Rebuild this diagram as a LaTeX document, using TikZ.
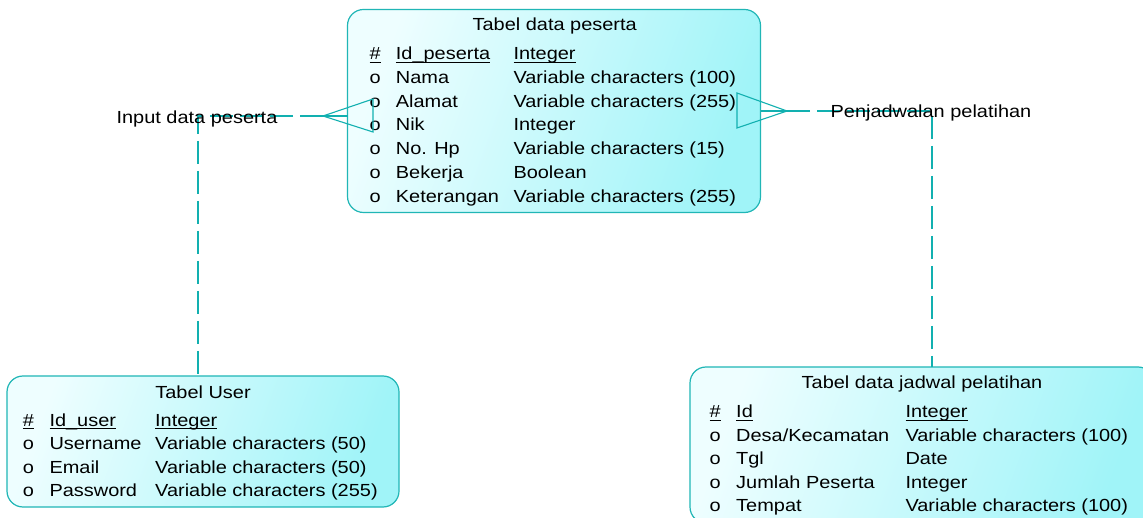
\documentclass[tikz,border=0pt]{standalone}
\usepackage{fontspec}
\setmainfont{Liberation Sans}[FakeStretch=1.14]
\definecolor{lnc}{RGB}{18,176,176}
\definecolor{bdc}{RGB}{32,182,182}
\definecolor{fa}{RGB}{238,254,255}
\definecolor{fb}{RGB}{160,244,248}
\newcommand\ulx[1]{\setbox0\hbox{#1}\rlap{\rule[-3.4pt]{\wd0}{1.3pt}}\box0}
\tikzset{
  tbl/.style={draw=bdc, line width=1.2pt, rounded corners=16pt, left color=fa, right color=fb, shading angle=70, anchor=north west, inner sep=0pt, outer sep=0pt},
  txt/.style={anchor=base west, inner sep=0pt, font=\fontsize{17.5}{20}\selectfont},
  ttl/.style={anchor=base, inner sep=0pt, font=\fontsize{17.5}{20}\selectfont},
  rel/.style={draw=lnc, line width=2.6pt, dash pattern=on 23pt off 7pt},
  foot/.style={draw=lnc, line width=1.1pt},
}
\begin{document}
\begin{tikzpicture}[x=1pt,y=-1pt]
\clip (0,0) rectangle (1143,518);
\fill[white] (0,0) rectangle (1143,518);

% tables
\node[tbl, minimum width=413pt, minimum height=203pt] (peserta) at (347.5,9.5) {};
\node[tbl, minimum width=392pt, minimum height=131pt] (user) at (7,376) {};
\node[tbl, minimum width=464pt, minimum height=156pt] (jadwal) at (690,367) {};

% titles
\node[ttl] (peserta-t) at (554.7,31) {Tabel data peserta};
\node[ttl] (user-t) at (203,398.3) {Tabel User};
\node[ttl] (jadwal-t) at (922,388.3) {Tabel data jadwal pelatihan};

% rows: Tabel data peserta
\foreach \y/\a/\b/\c [count=\k] in {
  59.5/{\ulx{\#}}/{\ulx{Id\_peserta}}/{\ulx{Integer}},
  83.3/o/Nama/Variable characters (100),
  107.1/o/Alamat/Variable characters (255),
  130.9/o/Nik/Integer,
  154.7/o/No. Hp/Variable characters (15),
  178.5/o/Bekerja/Boolean,
  202.3/o/Keterangan/Variable characters (255)}{
  \node[txt] (p\k-a) at (369.3,\y) {\a};
  \node[txt] (p\k-b) at (395.7,\y) {\b};
  \node[txt] (p\k-c) at (513.3,\y) {\c};
}

% rows: Tabel User
\foreach \y/\a/\b/\c [count=\k] in {
  426/{\ulx{\#}}/{\ulx{Id\_user}}/{\ulx{Integer}},
  449.5/o/Username/Variable characters (50),
  473.2/o/Email/Variable characters (50),
  496.8/o/Password/Variable characters (255)}{
  \node[txt] (u\k-a) at (22.7,\y) {\a};
  \node[txt] (u\k-b) at (49.3,\y) {\b};
  \node[txt] (u\k-c) at (155,\y) {\c};
}

% rows: Tabel data jadwal pelatihan
\foreach \y/\a/\b/\c [count=\k] in {
  417.7/{\ulx{\#}}/{\ulx{Id}}/{\ulx{Integer}},
  441.2/o/{Desa/Kecamatan}/Variable characters (100),
  464.8/o/Tgl/Date,
  488.3/o/Jumlah Peserta/Integer,
  511.9/o/Tempat/Variable characters (100)}{
  \node[txt] (j\k-a) at (709.3,\y) {\a};
  \node[txt] (j\k-b) at (736,\y) {\b};
  \node[txt] (j\k-c) at (905.3,\y) {\c};
}

% relation: Input data peserta
\coordinate (c1a) at (323,116);
\coordinate (c1t) at (373,99);
\coordinate (c1b) at (373,132);
\coordinate (c1d) at ([xshift=-5pt]user.north);
\draw[rel] (c1a) -| (c1d);
\draw[foot] (c1t) -- (c1a) -- (c1b) -- cycle;
\draw[foot] (c1a) -- (c1a -| peserta.west);
\node[ttl] (lbl1) at (197,123.3) {Input data peserta};

% relation: Penjadwalan pelatihan
\coordinate (c2a) at (787,111);
\coordinate (c2t) at (737,93);
\coordinate (c2b) at (737,128);
\coordinate (c2d) at ([xshift=10pt]jadwal.north);
\draw[rel] (c2a) -| (c2d);
\draw[foot] (c2t) -- (c2a) -- (c2b) -- cycle;
\draw[foot] (c2a) -- (c2a -| peserta.east);
\node[ttl] (lbl2) at (931,117.3) {Penjadwalan pelatihan};
\end{tikzpicture}
\end{document}
